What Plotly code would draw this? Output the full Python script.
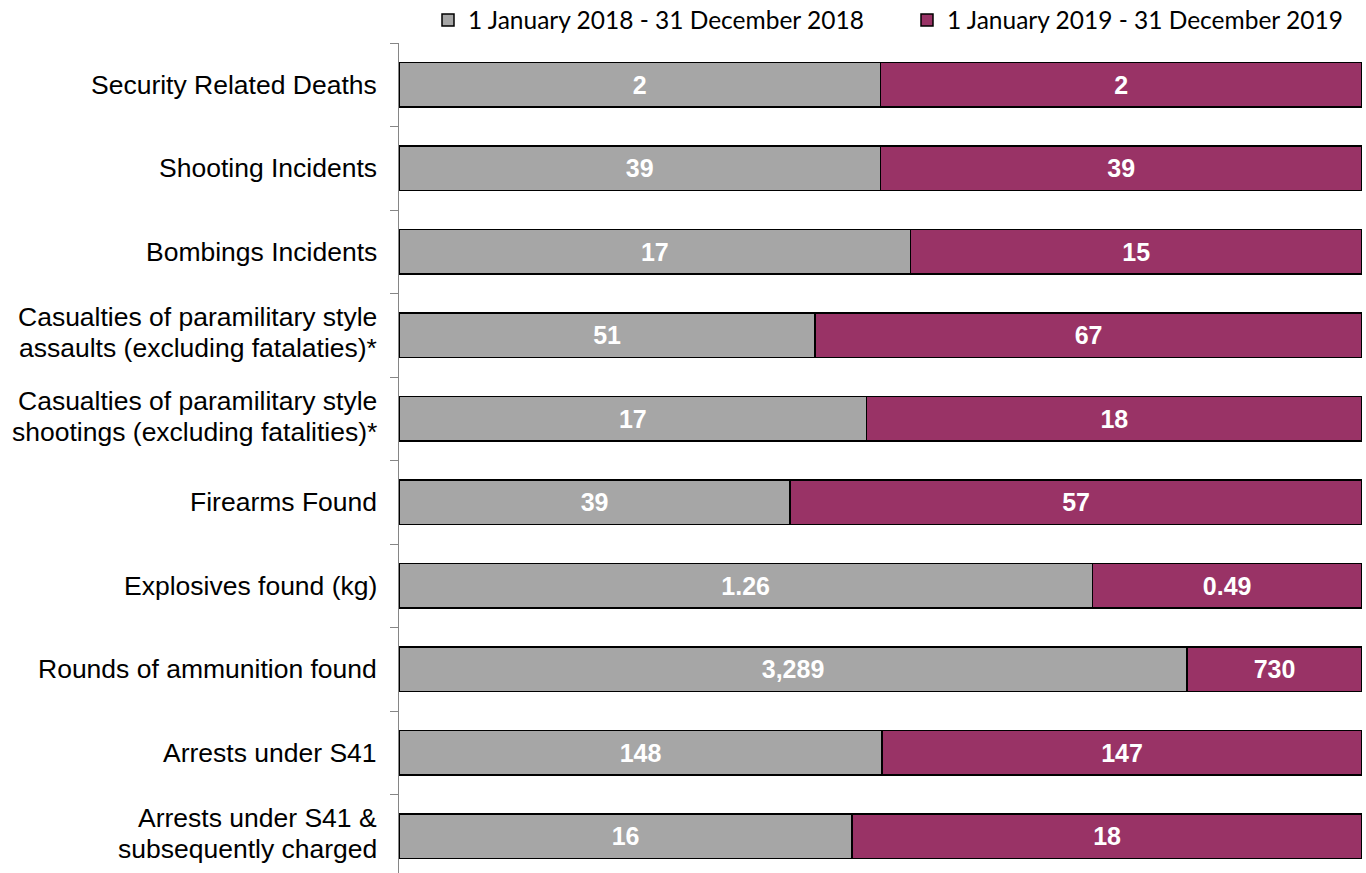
import plotly.graph_objects as go

categories = [
    "Security Related Deaths",
    "Shooting Incidents",
    "Bombings Incidents",
    "Casualties of paramilitary style<br>assaults (excluding fatalaties)*",
    "Casualties of paramilitary style<br>shootings (excluding fatalities)*",
    "Firearms Found",
    "Explosives found (kg)",
    "Rounds of ammunition found",
    "Arrests under S41",
    "Arrests under S41 &<br>subsequently charged",
]
values_2018 = [2, 39, 17, 51, 17, 39, 1.26, 3289, 148, 16]
values_2019 = [2, 39, 15, 67, 18, 57, 0.49, 730, 147, 18]
series_names = ["1 January 2018 - 31 December 2018", "1 January 2019 - 31 December 2019"]
colors = ["#A6A6A6", "#993366"]


def fmt(v):
    return f"{v:,}"


fig = go.Figure()
for name, vals, col in zip(series_names, [values_2018, values_2019], colors):
    fig.add_trace(go.Bar(
        y=categories, x=vals, orientation="h", name=name,
        marker=dict(color=col, line=dict(color="#000000", width=1.5)),
        text=[fmt(v) for v in vals], textposition="inside",
        insidetextanchor="middle", textangle=0,
        textfont=dict(family="Liberation Sans, Arial", size=25, color="white", weight="bold"),
        width=0.536, hoverinfo="skip",
    ))

# category labels drawn as text annotations so two-line labels get tight line spacing
label_font = dict(family="Liberation Sans, Arial", size=26.5, color="#000000")
for cat in categories:
    lines = cat.split("<br>")
    if len(lines) == 1:
        shifts = [0]
    else:
        shifts = [18, -13]
    for line, sh in zip(lines, shifts):
        fig.add_annotation(
            text=line, xref="paper", x=0, yref="y", y=cat,
            xanchor="right", yanchor="middle", xshift=-20, yshift=sh,
            showarrow=False, font=label_font,
        )

fig.update_layout(
    barmode="stack", barnorm="percent",
    width=1366, height=873,
    margin=dict(l=399, r=4, t=43, b=0, autoexpand=False),
    plot_bgcolor="white", paper_bgcolor="white",
    showlegend=True,
    legend=dict(
        orientation="h", xref="container", yref="container",
        x=428 / 1366, xanchor="left", y=1 - 20 / 873, yanchor="middle",
        font=dict(family="Lato, Liberation Sans", size=24.5, color="#000000"),
        entrywidth=434, entrywidthmode="pixels", traceorder="normal",
        bgcolor="rgba(0,0,0,0)",
    ),
    xaxis=dict(visible=False, range=[0, 100], fixedrange=True),
    yaxis=dict(
        type="category", range=[9.44, -0.5], showline=True, linecolor="#868686", linewidth=1,
        ticks="outside", tickson="boundaries", ticklen=8, tickcolor="#868686",
        showgrid=False, showticklabels=False, automargin=False,
    ),
)

fig.write_html(
    "out.html",
    config={"displayModeBar": False},
    post_script="document.body.style.margin='0';document.body.style.overflow='hidden';",
)
